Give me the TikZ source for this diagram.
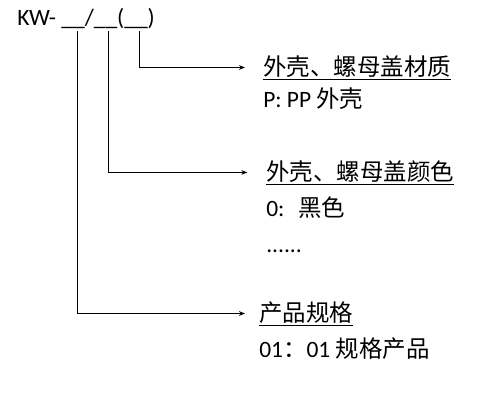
\documentclass[tikz,border=0pt]{standalone}
\usepackage{fontspec}
\setmainfont{Carlito}
\newfontfamily\cjk{Noto Sans CJK SC}
\usetikzlibrary{arrows.meta,positioning}

\begin{document}
\begin{tikzpicture}[
    x=0.75pt, y=-0.75pt,
    code/.style={inner sep=0, anchor=base west,
                 font=\fontsize{17.6}{21}\selectfont},
    field/.style={inner sep=0, anchor=base west,
                  font=\fontsize{17.6}{21}\selectfont\cjk},
    desc/.style={inner sep=0, anchor=base west,
                 font=\fontsize{17.6}{21}\selectfont},
    link/.style={-{Stealth[length=4.5pt,width=3.5pt]}, line width=0.75pt}
]
\useasboundingbox (0,0) rectangle (495,408);

% part number with its three blanks
\node[code] (code) at (17,25) {KW- \_\_/\_\_(\_\_)};
\coordinate (spec blank) at (77,31);
\coordinate (color blank) at (108,31);
\coordinate (mat blank) at (139,31);

% field labels
\node[field] (mat) at (263,75) {\underline{外壳、螺母盖材质}};
\node[desc] (mat val) at ([yshift=-24pt]mat.base west) {P: PP {\cjk 外壳}};

\node[field] (color) at (266,180) {\underline{外壳、螺母盖颜色}};
\node[desc] (color val) at ([yshift=-27.5pt]color.base west) {0:\hspace{0.6em}{\cjk 黑色}};
\node[desc] (color more) at ([yshift=-27pt]color val.base west) {......};

\node[field] (spec) at (259,321) {\underline{产品规格}};
\node[desc] (spec val) at ([yshift=-27pt]spec.base west) {01{\cjk ：}01 {\cjk 规格产品}};

% leaders
\draw[link] (mat blank) |- ([xshift=-13.5pt]mat.west);
\draw[link] (color blank) |- ([xshift=-14pt]color.west);
\draw[link] (spec blank) |- ([xshift=-10.5pt]spec.west);

\end{tikzpicture}
\end{document}
